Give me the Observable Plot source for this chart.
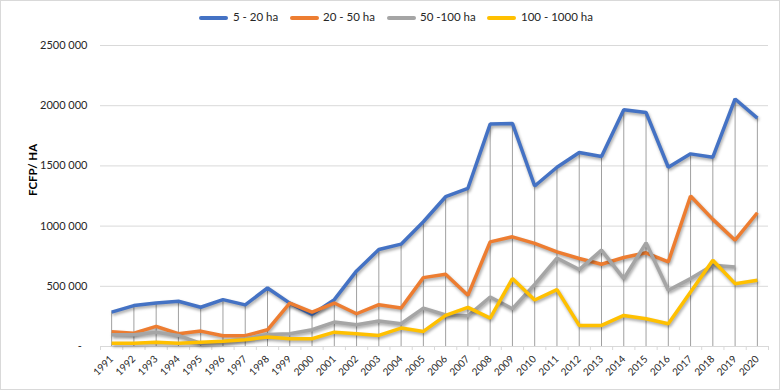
<!DOCTYPE html>
<html>
<head>
<meta charset="utf-8">
<script src="https://cdn.jsdelivr.net/npm/d3@7"></script>
<script src="https://cdn.jsdelivr.net/npm/@observablehq/plot@0.6"></script>
<style>
  body { margin: 0; background: #fff; }
  #wrap { position: relative; width: 783px; height: 391px; font-family: Lato, "Liberation Sans", sans-serif; background: #fff; }
  #frame { position: absolute; left: 0; top: 0; width: 780px; height: 390px; border: 1px solid #d9d9d9; box-sizing: border-box; pointer-events: none; }
  #legend { position: absolute; left: 0; top: 0; width: 783px; height: 34px; }
  .sw { position: absolute; top: 16px; width: 29px; height: 4px; border-radius: 2px; }
  .lt { position: absolute; top: 10px; font-size: 11.5px; color: #262626; white-space: nowrap; }
  #chart { position: absolute; left: 0; top: 34px; }
  #chart svg g[aria-label="line"] path { filter: drop-shadow(1px 2px 1.5px rgba(0,0,0,0.35)); }
</style>
</head>
<body>
<div id="wrap">
  <div id="legend"></div>
  <div id="chart"></div>
  <div id="frame"></div>
</div>
<script>
const years = [1991,1992,1993,1994,1995,1996,1997,1998,1999,2000,2001,2002,2003,2004,2005,2006,2007,2008,2009,2010,2011,2012,2013,2014,2015,2016,2017,2018,2019,2020];
const seriesNames = ["5 - 20 ha", "20 - 50 ha", "50 -100 ha", "100 - 1000 ha"];
const seriesColors = ["#4472C4", "#ED7D31", "#A5A5A5", "#FFC000"];
const ha5_20 = [286000,340000,362000,376000,326000,389000,346000,486000,360000,267000,389000,628000,806000,850000,1036000,1244000,1314000,1847000,1853000,1333000,1489000,1611000,1578000,1967000,1944000,1489000,1600000,1572000,2056000,1897000];
const ha20_50 = [122000,111000,167000,106000,128000,89000,89000,139000,361000,286000,361000,272000,347000,319000,572000,600000,425000,869000,911000,856000,786000,731000,683000,739000,778000,703000,1250000,1056000,883000,1111000];
const ha50_100 = [97000,97000,119000,92000,25000,40000,65000,100000,106000,139000,203000,181000,211000,189000,319000,262000,255000,411000,314000,515000,735000,639000,800000,564000,861000,467000,564000,675000,661000,null];
const ha100_1000 = [28000,28000,36000,28000,36000,44000,56000,78000,64000,64000,119000,106000,92000,153000,125000,258000,325000,236000,564000,386000,472000,175000,175000,258000,231000,189000,453000,717000,522000,550000];
const yTicks = [0,500000,1000000,1500000,2000000,2500000];
const yLabel = "FCFP/ HA";

const allSeries = [ha5_20, ha20_50, ha50_100, ha100_1000];
const rows = [];
allSeries.forEach((vals, si) => {
  vals.forEach((v, i) => rows.push({series: seriesNames[si], year: years[i], value: v == null ? NaN : v}));
});
const maxes = years.map((y, i) => ({year: y, max: d3.max(allSeries, s => s[i])}));
const boundaries = d3.range(years.length + 1).map(i => years[0] - 0.5 + i);

// legend
const legendX = [[199, 233], [290, 323], [387, 420], [487, 521]];
const legend = document.getElementById("legend");
seriesNames.forEach((n, i) => {
  const sw = document.createElement("div");
  sw.className = "sw"; sw.style.left = legendX[i][0] + "px"; sw.style.background = seriesColors[i];
  const t = document.createElement("div");
  t.className = "lt"; t.style.left = legendX[i][1] + "px"; t.textContent = n;
  legend.appendChild(sw); legend.appendChild(t);
});

const fmt = d => d === 0 ? "-\u00a0\u00a0" : `${Math.round(d / 1000)} 000`;

const plot = Plot.plot({
  width: 783,
  height: 357,
  marginLeft: 100,
  marginRight: 15,
  marginTop: 11,
  marginBottom: 45,
  style: {fontFamily: "Lato, 'Liberation Sans', sans-serif", color: "#262626", background: "transparent"},
  x: {type: "linear", domain: [years[0] - 0.5, years[years.length - 1] + 0.5]},
  y: {domain: [0, 2500000]},
  color: {domain: seriesNames, range: seriesColors},
  marks: [
    Plot.ruleY(yTicks, {stroke: "#d9d9d9", strokeWidth: 1}),
    Plot.axisY({ticks: yTicks, tickSize: 0, tickPadding: 13, tickFormat: fmt, fontSize: 11, label: null}),
    Plot.axisX({ticks: boundaries, tickSize: 4, tickFormat: () => "", stroke: "#d9d9d9", label: null}),
    Plot.axisX({ticks: years, tickSize: 0, tickPadding: 11, tickRotate: -45, tickFormat: d => String(d), fontSize: 10, label: null}),
    Plot.text([yLabel], {frameAnchor: "left", rotate: -90, dx: -67, fontWeight: "bold", fontSize: 11.5, fill: "#000"}),
    Plot.ruleX(maxes, {x: "year", y1: 0, y2: "max", stroke: "#a0a0a0", strokeWidth: 1}),
    Plot.line(rows, {x: "year", y: "value", z: "series", stroke: "series", strokeWidth: 3.5, strokeLinejoin: "miter", strokeLinecap: "butt"})
  ]
});
document.getElementById("chart").appendChild(plot);
</script>
</body>
</html>
